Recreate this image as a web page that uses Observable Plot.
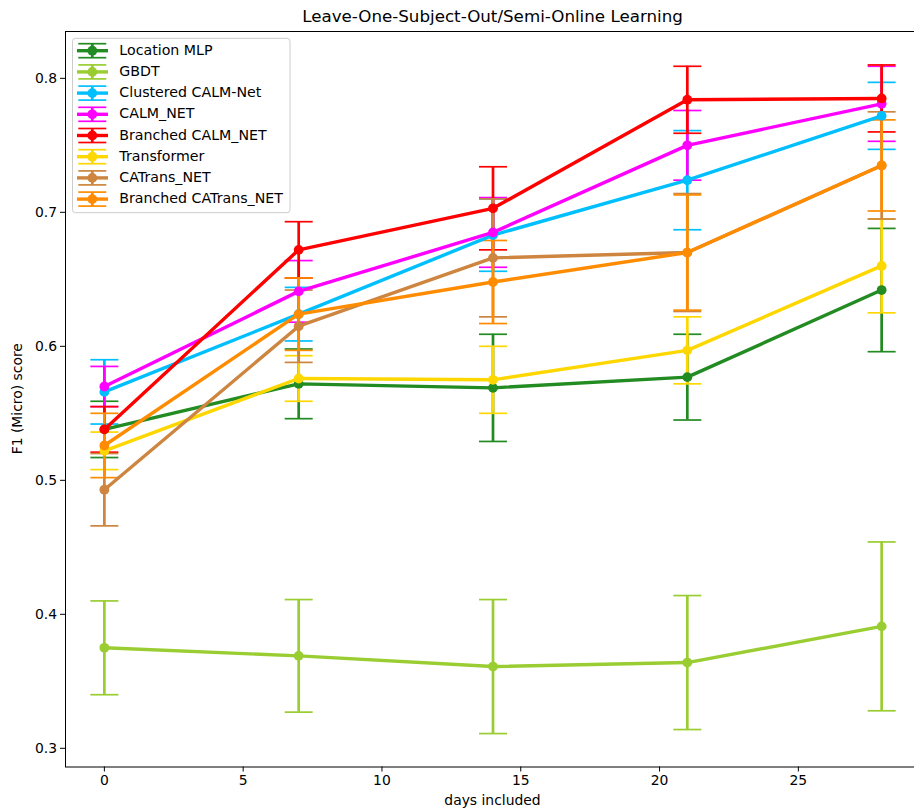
<!DOCTYPE html>
<html><head><meta charset="utf-8">
<script src="https://cdn.jsdelivr.net/npm/d3@7"></script>
<script src="https://cdn.jsdelivr.net/npm/@observablehq/plot@0.6"></script>
<style>
body{margin:0;background:#fff;overflow:hidden;font-family:"DejaVu Sans",sans-serif;}
#title{position:relative;height:30px;width:914px;}
#title span{position:absolute;left:65px;width:855px;text-align:center;top:8px;font-size:16.7px;line-height:1;color:#000;white-space:nowrap;}
</style></head><body>
<div id="title"><span>Leave-One-Subject-Out/Semi-Online Learning</span></div>
<div id="chart"></div>
<script>
// ---- data ----
const days = [0, 7, 14, 21, 28];
const seriesNames = ["Location MLP", "GBDT", "Clustered CALM-Net", "CALM_NET", "Branched CALM_NET", "Transformer", "CATrans_NET", "Branched CATrans_NET"];
const seriesColors = ["#228B22", "#9ACD32", "#00BFFF", "#FF00FF", "#FF0000", "#FFD700", "#CD853F", "#FF8C00"];

const locationMLP = [0.538, 0.572, 0.569, 0.577, 0.642];
const locationMLPErr = [0.021, 0.026, 0.040, 0.032, 0.046];
const gbdt = [0.375, 0.369, 0.361, 0.364, 0.391];
const gbdtErr = [0.035, 0.042, 0.050, 0.050, 0.063];
const clusteredCalm = [0.566, 0.624, 0.683, 0.724, 0.772];
const clusteredCalmErr = [0.024, 0.020, 0.027, 0.037, 0.025];
const calmNet = [0.570, 0.641, 0.685, 0.750, 0.781];
const calmNetErr = [0.015, 0.023, 0.026, 0.026, 0.028];
const branchedCalm = [0.538, 0.672, 0.703, 0.784, 0.785];
const branchedCalmErr = [0.017, 0.021, 0.031, 0.025, 0.025];
const transformer = [0.522, 0.576, 0.575, 0.597, 0.660];
const transformerErr = [0.014, 0.017, 0.025, 0.025, 0.035];
const catrans = [0.493, 0.615, 0.666, 0.670, 0.735];
const catransErr = [0.027, 0.027, 0.044, 0.044, 0.040];
const branchedCatrans = [0.526, 0.624, 0.648, 0.670, 0.735];
const branchedCatransErr = [0.024, 0.027, 0.031, 0.043, 0.034];

const xTicks = [0, 5, 10, 15, 20, 25];
const yTicks = [0.3, 0.4, 0.5, 0.6, 0.7, 0.8];

const means = [locationMLP, gbdt, clusteredCalm, calmNet, branchedCalm, transformer, catrans, branchedCatrans];
const errs = [locationMLPErr, gbdtErr, clusteredCalmErr, calmNetErr, branchedCalmErr, transformerErr, catransErr, branchedCatransErr];

const seriesData = seriesNames.map((name, i) => days.map((d, j) => ({
  series: name, day: d, value: means[i][j], lo: means[i][j] - errs[i][j], hi: means[i][j] + errs[i][j]
})));

// matplotlib-like 5% margins
const allLo = d3.min(seriesData.flat(), d => d.lo), allHi = d3.max(seriesData.flat(), d => d.hi);
const yPad = (allHi - allLo) * 0.05;
const xPad = (d3.max(days) - d3.min(days)) * 0.05;

const capSymbol = {draw(ctx) { ctx.moveTo(-14, 0); ctx.lineTo(14, 0); }};

const barMarks = [];
const lineMarks = [];
seriesData.forEach((data, i) => {
  const c = seriesColors[i];
  barMarks.push(Plot.ruleX(data, {x: "day", y1: "lo", y2: "hi", stroke: c, strokeWidth: 2.7}));
  barMarks.push(Plot.dot(data, {x: "day", y: "lo", symbol: capSymbol, fill: "none", stroke: c, strokeWidth: 1.7}));
  barMarks.push(Plot.dot(data, {x: "day", y: "hi", symbol: capSymbol, fill: "none", stroke: c, strokeWidth: 1.7}));
  lineMarks.push(Plot.line(data, {x: "day", y: "value", stroke: c, strokeWidth: 3.4}));
  lineMarks.push(Plot.dot(data, {x: "day", y: "value", fill: c, r: 4.9}));
});

const chart = Plot.plot({
  width: 914, height: 780,
  marginTop: 1, marginBottom: 43.5, marginLeft: 65, marginRight: -6,
  style: {fontFamily: "DejaVu Sans, sans-serif", fontSize: "13.9px", color: "#000", background: "#fff"},
  x: {domain: [d3.min(days) - xPad, d3.max(days) + xPad]},
  y: {domain: [allLo - yPad, allHi + yPad]},
  marks: [
    ...barMarks,
    ...lineMarks,
    Plot.frame({stroke: "#000", strokeWidth: 1}),
    Plot.axisX({ticks: xTicks, tickSize: 5, tickPadding: 3.5, label: null, tickFormat: d3.format("d")}),
    Plot.axisY({ticks: yTicks, tickSize: 5, tickPadding: 3.5, label: null, tickFormat: d3.format(".1f")})
  ]
});
document.getElementById("chart").appendChild(chart);

// axis titles and legend (page y offset 30)
const svg = d3.select(chart);
svg.append("text").attr("x", 492.5).attr("y", 771).attr("text-anchor", "middle").attr("dominant-baseline", "middle")
  .attr("font-size", 13.9).attr("fill", "#000").text("days included");
svg.append("text").attr("transform", "translate(18,368.75) rotate(-90)").attr("text-anchor", "middle").attr("dominant-baseline", "middle")
  .attr("font-size", 13.9).attr("fill", "#000").text("F1 (Micro) score");

const lg = svg.append("g").attr("transform", "translate(72.5,8.3)");
lg.append("rect").attr("width", 217.5).attr("height", 174.4).attr("rx", 3).attr("fill", "rgba(255,255,255,0.8)").attr("stroke", "#cccccc").attr("stroke-width", 1);
seriesNames.forEach((name, i) => {
  const cy = 12.4 + i * 21.2, c = seriesColors[i];
  const g = lg.append("g").attr("transform", `translate(0,${cy})`);
  g.append("line").attr("x1", 19.8).attr("x2", 19.8).attr("y1", -7).attr("y2", 7).attr("stroke", c).attr("stroke-width", 2.7);
  g.append("line").attr("x1", 5.8).attr("x2", 33.8).attr("y1", -7).attr("y2", -7).attr("stroke", c).attr("stroke-width", 1.7);
  g.append("line").attr("x1", 5.8).attr("x2", 33.8).attr("y1", 7).attr("y2", 7).attr("stroke", c).attr("stroke-width", 1.7);
  g.append("line").attr("x1", 4.5).attr("x2", 35.5).attr("y1", 0).attr("y2", 0).attr("stroke", c).attr("stroke-width", 3.4);
  g.append("circle").attr("cx", 19.8).attr("cy", 0).attr("r", 4.9).attr("fill", c);
  g.append("text").attr("x", 46.8).attr("y", 0).attr("text-anchor", "start").attr("dominant-baseline", "middle").attr("font-size", 14.2).attr("fill", "#000").text(name);
});
</script>
</body></html>
